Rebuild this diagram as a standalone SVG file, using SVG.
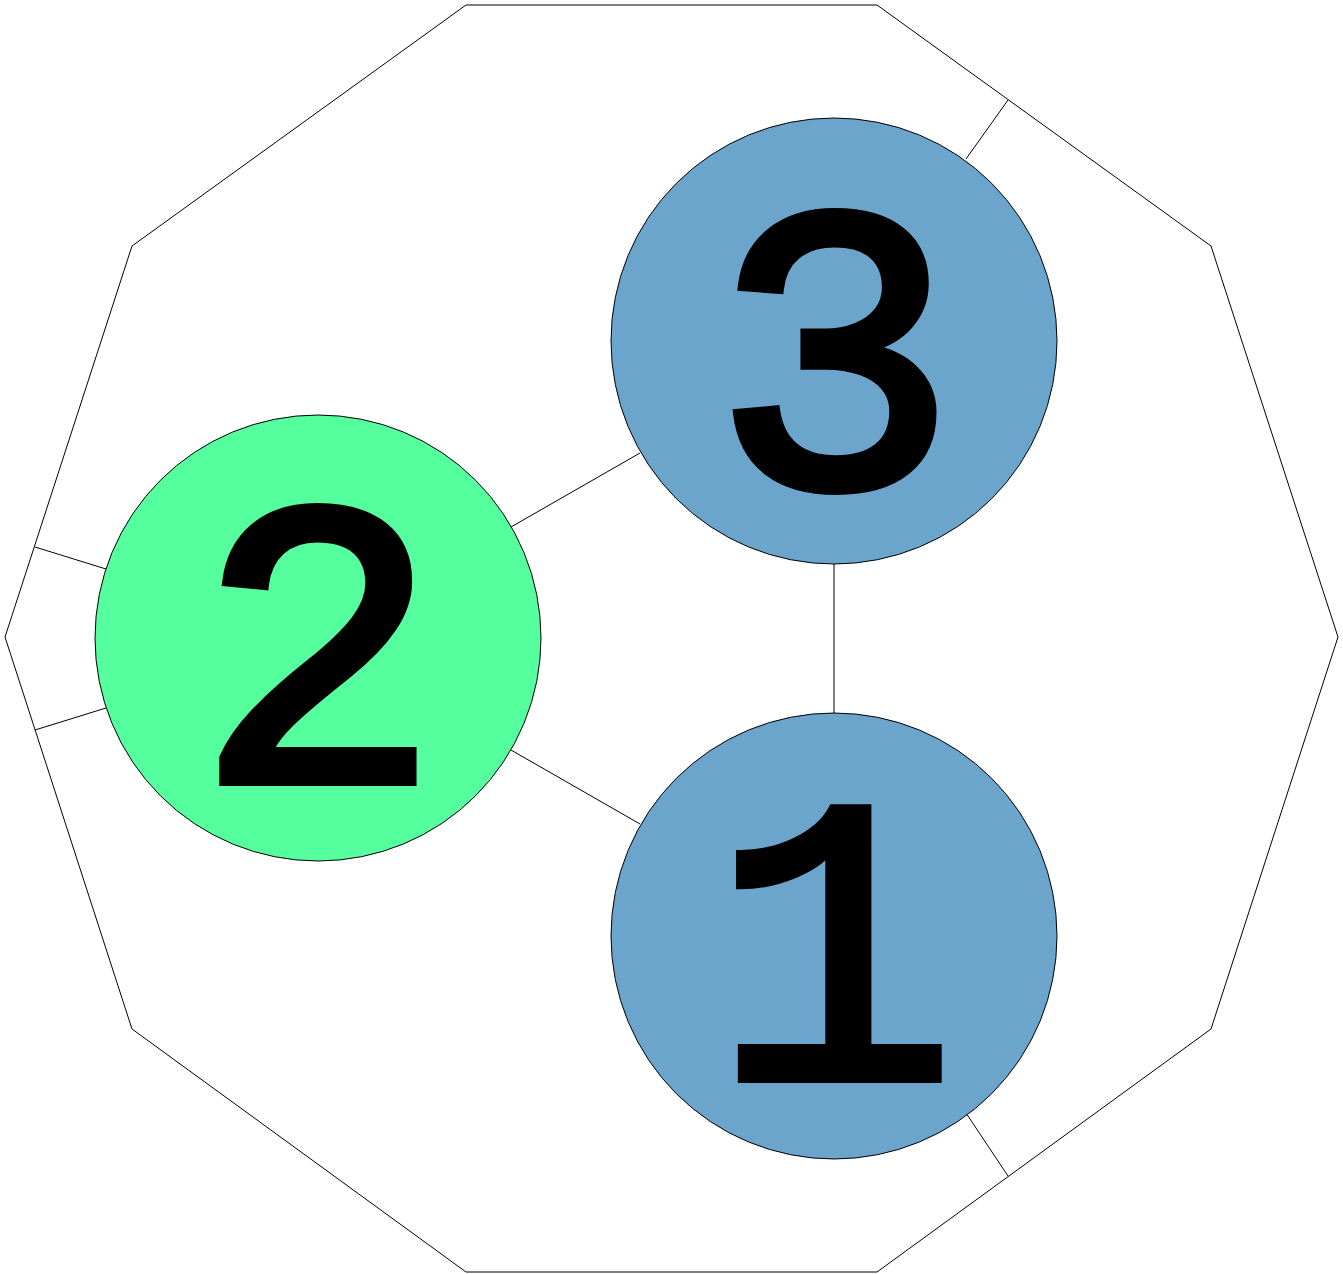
<svg xmlns="http://www.w3.org/2000/svg" width="1343" height="1274" viewBox="0 0 1343 1274">
<style>
.ln{stroke:#000;stroke-width:1;fill:none}
.nd{stroke:#000;stroke-width:1}
.lb{font-family:"Liberation Mono",monospace;font-weight:normal;font-size:408px;text-anchor:middle;fill:#000;stroke:#000;stroke-width:10;stroke-linejoin:miter}
</style>
<rect width="1343" height="1274" fill="#fff"/>
<polygon id="frame" class="ln" points="466,5 877,5 1211,246 1338,637 1211,1029 877,1272 466,1272 132,1029 5,637 132,246"/>
<g id="connectors">
<line class="ln" x1="640" y1="453" x2="511" y2="527"/>
<line class="ln" x1="511" y1="750" x2="640" y2="824"/>
<line class="ln" x1="834" y1="564" x2="834" y2="713"/>
<line class="ln" x1="966" y1="159" x2="1008" y2="100"/>
<line class="ln" x1="966" y1="1113" x2="1008" y2="1176"/>
<line class="ln" x1="106" y1="569" x2="35" y2="547"/>
<line class="ln" x1="106" y1="708" x2="35" y2="730"/>
</g>
<g id="node3">
<circle class="nd" cx="834" cy="341" r="223" fill="#6ca5cb"/>
<text class="lb" x="835" y="486">3</text>
</g>
<g id="node2">
<circle class="nd" cx="318" cy="638" r="223" fill="#55ff9e"/>
<text class="lb" x="318" y="781">2</text>
</g>
<g id="node1">
<circle class="nd" cx="834" cy="936" r="223" fill="#6ca5cb"/>
<text class="lb" x="834" y="1078">1</text>
</g>
</svg>
